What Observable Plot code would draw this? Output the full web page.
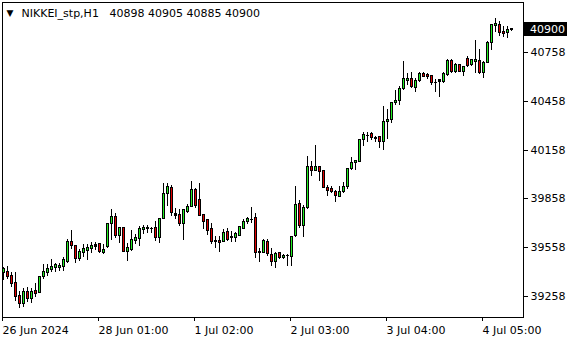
<!DOCTYPE html>
<html><head><meta charset="utf-8">
<script src="https://cdn.jsdelivr.net/npm/d3@7"></script>
<script src="https://cdn.jsdelivr.net/npm/@observablehq/plot@0.6"></script>
<style>
body{margin:0;background:#fff}
svg{display:block}
svg rect, svg line, svg path{shape-rendering:crispEdges}
</style>
</head><body><div id="chart"></div>
<script>
const symbol = "NIKKEI_stp,H1";
const opens = [39402,39408,39385,39340,39262,39211,39285,39244,39289,39279,39377,39405,39422,39432,39432,39438,39473,39596,39569,39491,39524,39540,39551,39565,39580,39524,39565,39702,39749,39632,39678,39534,39545,39600,39610,39667,39672,39678,39678,39616,39733,39886,39923,39765,39758,39702,39780,39810,39913,39851,39759,39729,39672,39597,39602,39596,39657,39626,39620,39632,39673,39718,39727,39739,39534,39528,39592,39514,39473,39524,39494,39508,39503,39630,39825,39694,39804,40052,40029,40052,40029,39927,39919,39902,39872,39899,39933,40042,40077,40083,40220,40250,40256,40230,40236,40209,40328,40342,40445,40459,40531,40584,40598,40541,40584,40625,40619,40612,40572,40588,40578,40619,40706,40639,40680,40639,40715,40680,40700,40706,40629,40694,40819,40923,40925,40881,40878,40898];
const highs = [39434,39440,39403,39403,39289,39310,39311,39310,39340,39380,39453,39453,39483,39463,39463,39496,39606,39661,39572,39545,39575,39575,39589,39592,39585,39575,39708,39790,39770,39683,39680,39586,39661,39641,39688,39692,39692,39680,39718,39739,39954,39954,39943,39801,39790,39792,39821,39968,39923,39950,39761,39731,39708,39626,39626,39672,39678,39657,39651,39688,39733,39745,39807,39766,39555,39606,39606,39555,39528,39530,39514,39514,39626,39937,39851,39815,40121,40091,40189,40056,40031,39943,39937,39907,39937,39958,40044,40114,40093,40226,40264,40264,40264,40244,40244,40424,40410,40451,40526,40551,40700,40629,40633,40598,40635,40633,40629,40619,40592,40592,40633,40715,40715,40690,40686,40670,40735,40715,40833,40776,40700,40827,40932,40966,40946,40919,40919,40905];
const lows = [39356,39365,39311,39227,39187,39190,39219,39217,39252,39275,39365,39381,39403,39408,39411,39411,39459,39545,39459,39473,39500,39477,39524,39540,39524,39514,39555,39600,39616,39586,39528,39473,39534,39575,39565,39637,39647,39647,39596,39586,39729,39810,39749,39729,39688,39602,39770,39808,39800,39749,39667,39631,39575,39555,39528,39589,39596,39589,39589,39632,39667,39698,39704,39494,39467,39524,39503,39442,39432,39488,39488,39442,39442,39620,39678,39620,39790,39994,40025,39964,39920,39872,39893,39835,39866,39893,39913,40031,40031,40083,40179,40206,40220,40207,40169,40154,40226,40322,40435,40435,40526,40557,40537,40510,40571,40604,40594,40557,40510,40482,40568,40612,40629,40629,40635,40612,40666,40674,40629,40625,40598,40690,40772,40884,40858,40850,40844,40885];
const closes = [39426,39377,39334,39252,39211,39285,39244,39283,39273,39375,39411,39426,39442,39453,39446,39483,39592,39571,39489,39530,39551,39559,39569,39575,39534,39545,39704,39749,39632,39681,39534,39559,39606,39620,39672,39681,39678,39678,39616,39733,39886,39933,39770,39755,39704,39790,39810,39913,39815,39755,39718,39663,39596,39594,39586,39651,39606,39616,39641,39684,39718,39735,39729,39528,39524,39600,39518,39469,39520,39494,39508,39508,39626,39821,39694,39800,40052,40031,40056,40025,39923,39908,39899,39878,39899,39933,40042,40077,40091,40220,40250,40250,40230,40229,40206,40328,40342,40445,40459,40531,40598,40598,40543,40582,40625,40608,40608,40568,40571,40578,40625,40704,40639,40680,40639,40666,40674,40711,40711,40629,40694,40819,40925,40936,40878,40870,40899,40900];
const xTickIndex = [0, 24, 48, 72, 96, 120];
const xTickLabels = ["26 Jun 2024", "28 Jun 01:00", "1 Jul 02:00", "2 Jul 03:00", "3 Jul 04:00", "4 Jul 05:00"];
const yTicks = [39258, 39558, 39858, 40158, 40458, 40758];

const candles = opens.map((o, i) => ({i, open: o, high: highs[i], low: lows[i], close: closes[i]}));
const bulls = candles.filter(d => d.close - d.open > 10);
const bears = candles.filter(d => d.open - d.close > 10);
const last = candles[candles.length - 1];
const lastPrice = last.close;
const ohlcText = [last.open, last.high, last.low, last.close].join(" ");

const W = 580, H = 340;
const chart = Plot.plot({
  width: W, height: H,
  marginLeft: 2, marginRight: 57, marginTop: 2, marginBottom: 23,
  style: {fontFamily: "DejaVu Sans", fontSize: "11px", color: "black", background: "white"},
  x: {type: "linear", domain: [-0.25, 130], label: null},
  y: {type: "linear", domain: [39128.9, 41065.4], label: null},
  marks: [
    Plot.ruleX(candles, {x: "i", y1: "low", y2: "high", stroke: "black", strokeWidth: 1}),
    Plot.rect(candles.filter(d => d.open !== d.close), {
      x1: d => d.i - 0.375, x2: d => d.i + 0.375, y1: "open", y2: "close", dx: 0.5,
      fill: "black", insetTop: -0.5, insetBottom: -0.5
    }),
    Plot.rect(bulls, {
      x1: d => d.i - 0.125, x2: d => d.i + 0.125, y1: "open", y2: "close", dx: 0.5,
      fill: "#22ee22", insetTop: 0.5, insetBottom: 0.5
    }),
    Plot.rect(bears, {
      x1: d => d.i - 0.125, x2: d => d.i + 0.125, y1: "open", y2: "close", dx: 0.5,
      fill: "#e00000", insetTop: 0.5, insetBottom: 0.5
    }),
    Plot.ruleY(candles.filter(d => d.open === d.close), {
      x1: d => d.i - 0.375, x2: d => d.i + 0.375, y: "close", dx: 0.5, stroke: "black"
    }),
    Plot.frame({stroke: "black"}),
    Plot.axisY(yTicks, {anchor: "right", tickSize: 4, tickPadding: 3, tickFormat: d => String(d), fill: "black", label: null}),
    Plot.axisX(xTickIndex, {anchor: "bottom", tickSize: 4, tickPadding: 5, textAnchor: "start", dx: -1,
      tickFormat: d => xTickLabels[xTickIndex.indexOf(d)], fill: "black", label: null}),
    Plot.text(["\u25BC"], {frameAnchor: "top-left", dx: 4, dy: 13, lineAnchor: "bottom", textAnchor: "start", fontSize: 9, fill: "black"}),
    Plot.text([symbol], {frameAnchor: "top-left", dx: 19, dy: 14, lineAnchor: "bottom", textAnchor: "start", fill: "black"}),
    Plot.text([ohlcText], {frameAnchor: "top-left", dx: 107, dy: 14, lineAnchor: "bottom", textAnchor: "start", fill: "black"})
  ]
});
chart.setAttribute("shape-rendering", "crispEdges");

const yPix = chart.scale("y").apply(lastPrice) + 0.5;
const g = d3.select(chart).append("g");
g.append("rect").attr("x", 524).attr("y", Math.round(yPix - 7)).attr("width", 43).attr("height", 14).attr("fill", "black");
g.append("text").attr("x", 530).attr("y", yPix).attr("dy", "0.35em").attr("fill", "white")
  .attr("text-anchor", "start")
  .attr("font-family", "DejaVu Sans").attr("font-size", 11).text(String(lastPrice));
document.getElementById("chart").appendChild(chart);
</script>
</body></html>
